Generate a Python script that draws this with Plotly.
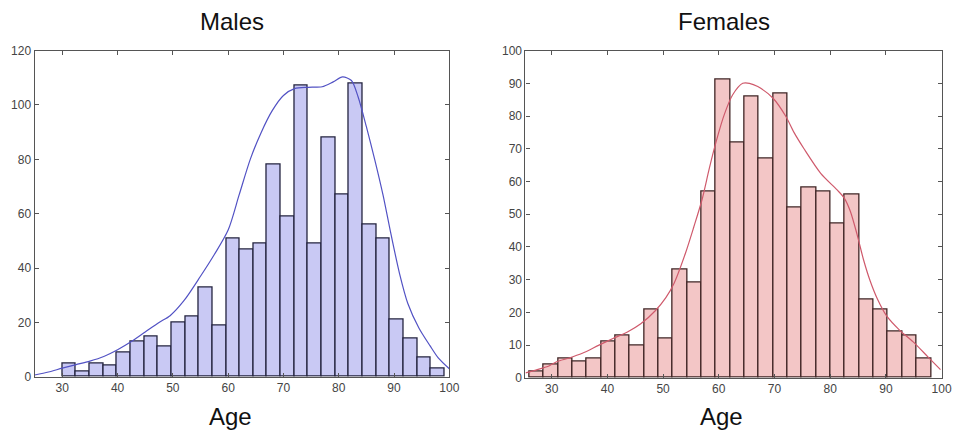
import plotly.graph_objects as go

# ---------------- data ----------------
male_bin_start = 30.0
male_bin_width = 2.47
male_counts = [5, 2, 5, 4, 9, 13, 15, 11, 20, 22, 33, 19, 51, 47, 49, 78, 59, 107,
               49, 88, 67, 108, 56, 51, 21, 14, 7, 3]

female_bin_start = 26.0
female_bin_width = 2.575
female_counts = [2, 4, 6, 5, 6, 11, 13, 10, 21, 12, 33, 29, 57, 91, 72, 86, 67, 87,
                 52, 58, 57, 47, 56, 24, 21, 14, 13, 6]

male_curve_age = [25, 27.5, 30, 32.5, 35, 37.5, 40, 42.5, 45, 47.5, 49.5, 52, 55, 57.5,
                  60, 62, 64, 66, 68, 70, 72, 74.5, 77, 79, 80.7, 82.3, 83.5, 85, 86.5,
                  88, 89.5, 91, 92.5, 94.5, 96.5, 98, 100]
male_curve_val = [0.7, 1.8, 3.2, 4.5, 5.8, 7.5, 10, 13, 16.5, 20, 22.5, 28, 37, 45,
                  54, 67, 80, 90, 98, 103.5, 106, 106.5, 106.7, 108.5, 110.3, 109, 103, 92, 80,
                  67, 52, 38, 27, 18, 11.5, 7, 3]

female_curve_age = [25.3, 27, 29.6, 31, 33, 35.5, 38.5, 41, 43.6, 46, 48.6, 50.5, 52, 54,
                    55.5, 57, 58.3, 59.5, 61, 62.5, 64.3, 65.5, 67, 69.7, 72, 73.5, 75.3,
                    78.3, 81.2, 82.5, 83.6, 84.8, 86, 87.2, 88.5, 90.1, 92.5, 94.9, 97.5, 99.8]
female_curve_val = [1.5, 2.3, 3.7, 5, 6, 7.5, 10, 12, 14, 16.5, 20.5, 24.5, 29, 38,
                    46, 54.5, 64, 72, 80.5, 86.5, 90, 90, 89, 85.5, 80, 75, 70,
                    62.5, 57.5, 55, 51, 44, 36, 29.5, 24, 19, 14.5, 11, 6.5, 2.5]

x_ticks = [30, 40, 50, 60, 70, 80, 90, 100]
male_y_ticks = [0, 20, 40, 60, 80, 100, 120]
female_y_ticks = [0, 10, 20, 30, 40, 50, 60, 70, 80, 90, 100]

titles = ["Males", "Females"]
x_label = "Age"

# ---------------- figure ----------------
male_centers = [male_bin_start + (i + 0.5) * male_bin_width for i in range(len(male_counts))]
female_centers = [female_bin_start + (i + 0.5) * female_bin_width for i in range(len(female_counts))]

fig = go.Figure()

fig.add_trace(go.Bar(
    x=male_centers, y=male_counts, width=male_bin_width,
    marker=dict(color="#c9c9f4", line=dict(color="#23233f", width=1.3)),
    xaxis="x", yaxis="y", showlegend=False))
fig.add_trace(go.Scatter(
    x=male_curve_age, y=male_curve_val, mode="lines",
    line=dict(color="#5252c4", width=1.2, shape="spline", smoothing=0.8),
    xaxis="x", yaxis="y", showlegend=False))

fig.add_trace(go.Bar(
    x=female_centers, y=female_counts, width=female_bin_width,
    marker=dict(color="#f3c6c6", line=dict(color="#3f2424", width=1.3)),
    xaxis="x2", yaxis="y2", showlegend=False))
fig.add_trace(go.Scatter(
    x=female_curve_age, y=female_curve_val, mode="lines",
    line=dict(color="#cf5a6c", width=1.2, shape="spline", smoothing=0.8),
    xaxis="x2", yaxis="y2", showlegend=False))

axis_common = dict(
    showline=True, linecolor="#555555", linewidth=1.2, mirror="ticks",
    ticks="inside", ticklen=4, tickwidth=1, tickcolor="#555555",
    showgrid=False, zeroline=False,
    tickfont=dict(family="Liberation Sans, Arial, sans-serif", size=12, color="#444444"),
)

W, H = 965, 441
TOP, BOT = 45, 382
fig.update_layout(
    width=W, height=H,
    margin=dict(l=0, r=0, t=0, b=0),
    paper_bgcolor="white", plot_bgcolor="white",
    bargap=0,
    xaxis=dict(domain=[35 / W, 454 / W], range=[25, 100], tickvals=x_ticks,
               anchor="y", **axis_common),
    yaxis=dict(domain=[(H - BOT) / H, (H - TOP) / H], range=[0, 120], tickvals=male_y_ticks,
               anchor="x", **axis_common),
    xaxis2=dict(domain=[531 / W, 952 / W], range=[25.3, 100.1], tickvals=x_ticks,
                anchor="y2", **axis_common),
    yaxis2=dict(domain=[(H - BOT - 1) / H, (H - TOP) / H], range=[0, 100], tickvals=female_y_ticks,
                anchor="x2", **axis_common),
)

title_font = dict(family="Liberation Sans, Arial, sans-serif", size=24, color="#111111")
for cx, t in zip([234, 732], titles):
    fig.add_annotation(x=cx / W, y=1 - 15 / H, xref="paper", yref="paper",
                       text=t, showarrow=False, font=title_font,
                       xanchor="center", yanchor="middle")
for cx in [233, 729]:
    fig.add_annotation(x=cx / W, y=(H - 423) / H, xref="paper", yref="paper",
                       text=x_label, showarrow=False, font=title_font,
                       xanchor="center", yanchor="middle")

fig.write_html(
    "out.html",
    config={"displayModeBar": False},
    post_script="document.body.style.margin='0';document.body.style.overflow='hidden';",
)
